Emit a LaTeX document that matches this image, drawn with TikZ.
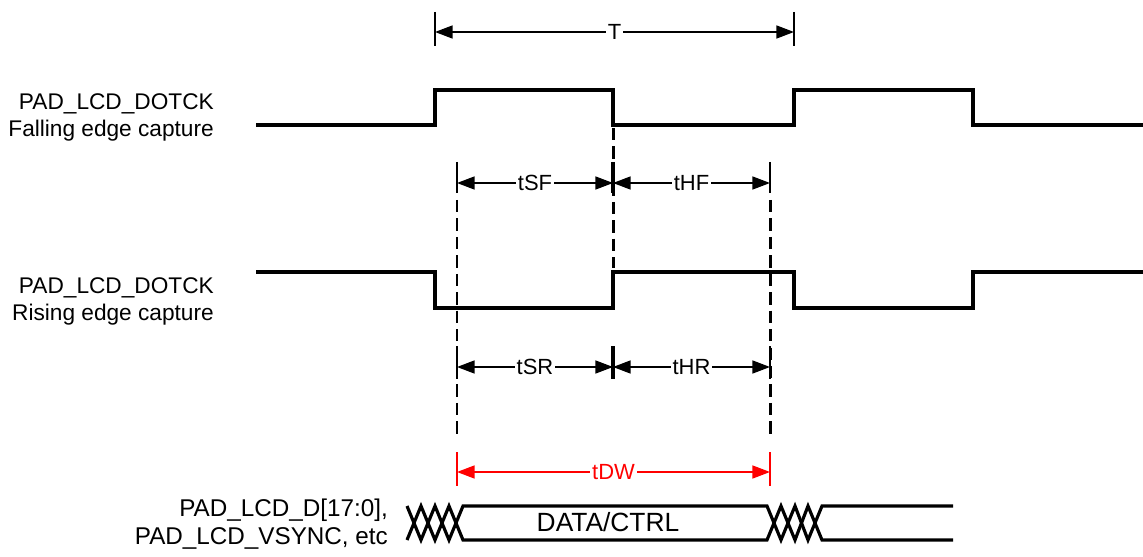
\documentclass[tikz,border=0pt]{standalone}
\usepackage{fontspec}
\setmainfont{Liberation Sans}
\usepackage{tikz}
\usetikzlibrary{calc}
\usetikzlibrary{positioning}
\usetikzlibrary{arrows.meta}

\begin{document}
\begin{tikzpicture}[x=0.02cm, y=-0.02cm,
		wave/.style={line width=2pt, line join=miter},
		dim/.style={line width=0.8pt, {Triangle[length=10pt,width=7.4pt]}-{Triangle[length=10pt,width=7.4pt]}},
		tick/.style={line width=0.8pt},
		guide/.style={line width=1.7pt, dash pattern=on 7pt off 3.5pt},
		lab/.style={fill=white, inner sep=1pt, font=\fontsize{12.5}{15}\selectfont},
		sig/.style={align=right, anchor=east, font=\fontsize{12.9}{15.3}\selectfont}]
				\useasboundingbox (0,0) rectangle (1143,557);
				
				% signal names
				\node[sig] (clkF) at (220,117) {PAD\_LCD\_DOTCK\\Falling edge capture};
				\node[sig] (clkR) at (220,301) {PAD\_LCD\_DOTCK\\Rising edge capture};
				\node[sig, font=\fontsize{13.8}{15.8}\selectfont] (bus) at (394,524) {PAD\_LCD\_D[17:0],\\PAD\_LCD\_VSYNC, etc};
				
				% edges
				\coordinate (Ta) at (435,32);
				\coordinate (Tb) at (794,32);
				\coordinate (SFa) at (457,183);
				\coordinate (SFb) at (613,183);
				\coordinate (HFb) at (770,183);
				\coordinate (SRa) at (457,367);
				\coordinate (SRb) at (613,367);
				\coordinate (HRb) at (770,367);
				\coordinate (DWa) at (457,472);
				\coordinate (DWb) at (770,472);
				
				% dashed guides
				\draw[guide] (457,200) -- (457,438);
				\draw[guide] (770,200) -- (770,438);
				\draw[guide] (613,128) -- (613,268);
				
				% clocks
				\draw[wave] (256,125) -- (435,125) -- (435,90) -- (613,90) -- (613,125) -- (794,125) -- (794,90) -- (973,90) -- (973,125) -- (1143,125);
				\draw[wave] (256,272) -- (435,272) -- (435,308) -- (613,308) -- (613,272) -- (794,272) -- (794,308) -- (973,308) -- (973,272) -- (1143,272);
				
				% data bus
				\draw[wave, line width=1.8pt] (407,506) -- (421,540) -- (435,506) -- (449,540) -- (463,506) -- (767,506) -- (781,540) -- (795,506) -- (808,540) -- (822,506) -- (953,506);
				\draw[wave, line width=1.8pt] (407,540) -- (421,506) -- (435,540) -- (449,506) -- (463,540) -- (767,540) -- (781,506) -- (795,540) -- (808,506) -- (822,540) -- (953,540);
				\node[font=\fontsize{15}{18}\selectfont] (data) at (608,522) {DATA/CTRL};
				
				% period
				\draw[tick] (435,12) -- (435,46);
				\draw[tick] (794,12) -- (794,46);
				\draw[dim] (Ta) -- (Tb) node[midway, lab] (T) {T};
				
				% falling edge setup / hold
				\draw[tick] (457,162) -- (457,193);
				\draw[tick] (612,162) -- (612,193);
				\draw[tick] (614,162) -- (614,193);
				\draw[tick] (770,162) -- (770,193);
				\draw[dim] (SFa) -- (SFb) node[midway, lab] (tSF) {tSF};
				\draw[dim] (SFb) -- (HFb) node[midway, lab] (tHF) {tHF};
				
				% rising edge setup / hold
				\draw[tick] (457,346) -- (457,379);
				\draw[tick] (612,346) -- (612,379);
				\draw[tick] (614,346) -- (614,379);
				\draw[tick] (770,346) -- (770,379);
				\draw[dim] (SRa) -- (SRb) node[midway, lab] (tSR) {tSR};
				\draw[dim] (SRb) -- (HRb) node[midway, lab] (tHR) {tHR};
				
				% data valid window
				\draw[tick, red] (457,452) -- (457,486);
				\draw[tick, red] (770,452) -- (770,486);
				\draw[dim, red] (DWa) -- (DWb) node[midway, lab, text=red] (tDW) {tDW};
\end{tikzpicture}
\end{document}
